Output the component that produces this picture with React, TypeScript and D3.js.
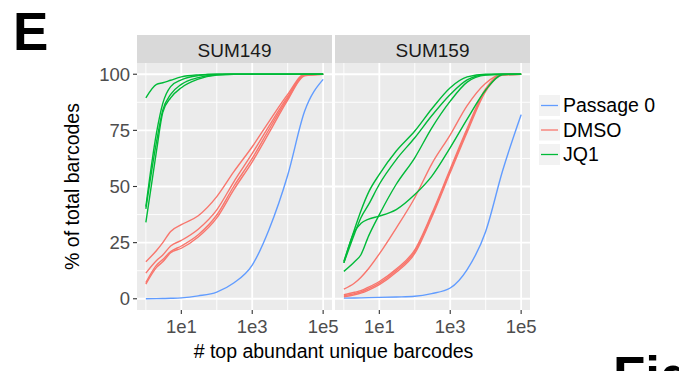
import React from 'react';
import * as d3 from 'd3';

// x positions shared by every curve (number of top barcodes)
const ranks = [1, 2, 3, 5, 10, 30, 100, 300, 1000, 3000, 10000, 30000, 100000];
const panels = ['SUM149', 'SUM159'];
const groups = ['Passage 0', 'DMSO', 'JQ1'];
const groupColors = ['#619CFF', '#F8766D', '#00BA38'];
const xTicks = [10, 1000, 100000];
const xTickLabels = ['1e1', '1e3', '1e5'];
const yTicks = [0, 25, 50, 75, 100];

// SUM149
const sum149Passage0 = [[0, 0.05, 0.1, 0.2, 0.4, 1.3, 3, 7, 15, 31, 55, 83.5, 97.7]];
const sum149Dmso = [
  [16.5, 21.5, 25, 30, 33, 37, 45.5, 56.5, 67.7, 79, 91, 100, 100],
  [11.4, 17, 19.5, 23.5, 26, 31, 39.6, 52, 64.7, 77, 90, 99.8, 100],
  [7.2, 15, 17.5, 21, 23.5, 28.5, 37.3, 50, 62.5, 75.5, 89.2, 99.5, 100],
  [6.5, 14, 16.5, 20.5, 22.5, 27.5, 36, 48.5, 61, 74, 88.5, 99.3, 100],
];
const sum149Jq1 = [
  [89.5, 95.5, 96.2, 97.3, 98.8, 99.7, 100, 100, 100, 100, 100, 100, 100],
  [41, 74, 87, 94.5, 97.5, 99.4, 100, 100, 100, 100, 100, 100, 100],
  [40, 70, 84, 91, 95.5, 98.5, 99.8, 100, 100, 100, 100, 100, 100],
  [34, 66, 83, 89.5, 94, 97.8, 99.6, 100, 100, 100, 100, 100, 100],
];

// SUM159
const sum159Passage0 = [[0.3, 0.35, 0.4, 0.5, 0.6, 0.8, 1.1, 2.3, 4.8, 13, 30, 57, 82]];
const sum159Dmso = [
  [4.3, 7, 9.5, 13.5, 20, 31.5, 45, 60, 73, 86, 96, 100, 100],
  [1.8, 2.9, 3.6, 5.2, 7.7, 13.2, 21.8, 37.8, 57.8, 75.8, 93.6, 99.8, 100],
  [1.3, 2.3, 3, 4.5, 7, 12.5, 21, 37, 57, 75, 93, 99.7, 100],
  [0.9, 1.8, 2.5, 3.9, 6.3, 11.8, 20.2, 36.2, 56.2, 74.2, 92.4, 99.6, 100],
];
const sum159Jq1 = [
  [16.7, 31, 39, 47.5, 55.4, 65.8, 74.7, 84.5, 94, 98.8, 100, 100, 100],
  [16, 29, 36, 42, 51, 62, 71.7, 81.5, 91, 97.5, 99.8, 100, 100],
  [12.2, 16.5, 19.5, 28, 37.5, 51, 62.8, 76, 88, 96.5, 99.6, 100, 100],
  [16, 30, 33.5, 35.5, 36.8, 39.7, 46.4, 54.5, 67.3, 80, 93, 99.8, 100],
];

const panelData = [
  [sum149Passage0, sum149Dmso, sum149Jq1],
  [sum159Passage0, sum159Dmso, sum159Jq1],
];

const font = 'Liberation Sans, Arial, Helvetica, sans-serif';

export default function App() {
  const panelLeft = [137, 335];
  const panelW = 195;
  const top = 63;
  const panelH = 247;
  const stripH = 28;

  const x = d3.scaleLog().domain([Math.pow(10, -0.25), Math.pow(10, 5.25)]).range([0, panelW]);
  const y = d3.scaleLinear().domain([-5, 105]).range([panelH, 0]);

  const line = d3.line<number>()
    .x((d, i) => x(ranks[i]))
    .y(d => y(d))
    .curve(d3.curveMonotoneX);

  const minorX = [1, 100, 10000];
  const minorY = [12.5, 37.5, 62.5, 87.5];

  return (
    <svg width={679} height={371} style={{ position: 'absolute', left: 0, top: 0, background: '#fff' }} fontFamily={font}>
      <text x={13} y={50} fontSize={53} fontWeight="bold" fill="#000">E</text>
      <text x={613} y={394} fontSize={53} fontWeight="bold" fill="#000">Fig</text>

      {panels.map((name, p) => (
        <g key={name} transform={`translate(${panelLeft[p]},${top})`}>
          <rect x={0} y={-stripH} width={panelW} height={stripH} fill="#D9D9D9" />
          <text x={panelW / 2} y={-6} textAnchor="middle" fontSize={19} fill="#1A1A1A">{name}</text>
          <rect x={0} y={0} width={panelW} height={panelH} fill="#EBEBEB" />
          {minorX.map(v => (
            <line key={'mx' + v} x1={x(v)} x2={x(v)} y1={0} y2={panelH} stroke="#fff" strokeWidth={0.9} />
          ))}
          {minorY.map(v => (
            <line key={'my' + v} x1={0} x2={panelW} y1={y(v)} y2={y(v)} stroke="#fff" strokeWidth={0.9} />
          ))}
          {xTicks.map(v => (
            <line key={'gx' + v} x1={x(v)} x2={x(v)} y1={0} y2={panelH} stroke="#fff" strokeWidth={1.8} />
          ))}
          {yTicks.map(v => (
            <line key={'gy' + v} x1={0} x2={panelW} y1={y(v)} y2={y(v)} stroke="#fff" strokeWidth={1.8} />
          ))}
          {panelData[p].map((series, g) =>
            series.map((vals, k) => (
              <path key={g + '-' + k} d={line(vals) || ''} fill="none" stroke={groupColors[g]} strokeWidth={1.4} />
            ))
          )}
          {xTicks.map((v, i) => (
            <g key={'tx' + v} transform={`translate(${x(v)},${panelH})`}>
              <line y1={0} y2={4} stroke="#333" strokeWidth={1.1} />
              <text y={23} textAnchor="middle" fontSize={18.5} fill="#4D4D4D">{xTickLabels[i]}</text>
            </g>
          ))}
          {p === 0 && yTicks.map(v => (
            <g key={'ty' + v} transform={`translate(0,${y(v)})`}>
              <line x1={-4} x2={0} stroke="#333" strokeWidth={1.1} />
              <text x={-7} textAnchor="end" dy="0.35em" fontSize={18.5} fill="#4D4D4D">{v}</text>
            </g>
          ))}
        </g>
      ))}

      <text transform={`translate(79,${top + panelH / 2}) rotate(-90)`} textAnchor="middle" fontSize={19.5} fill="#000">
        % of total barcodes
      </text>
      <text x={(panelLeft[0] + panelLeft[1] + panelW) / 2} y={358} textAnchor="middle" fontSize={19.5} fill="#000">
        # top abundant unique barcodes
      </text>

      <g transform="translate(539,95)">
        {groups.map((g, i) => (
          <g key={g} transform={`translate(0,${i * 24.5})`}>
            <rect x={0} y={0} width={21} height={21} fill="#F2F2F2" />
            <line x1={2} x2={19} y1={10.5} y2={10.5} stroke={groupColors[i]} strokeWidth={1.3} />
            <text x={24} y={10.5} dy="0.35em" fontSize={19.5} fill="#000">{g}</text>
          </g>
        ))}
      </g>
    </svg>
  );
}
